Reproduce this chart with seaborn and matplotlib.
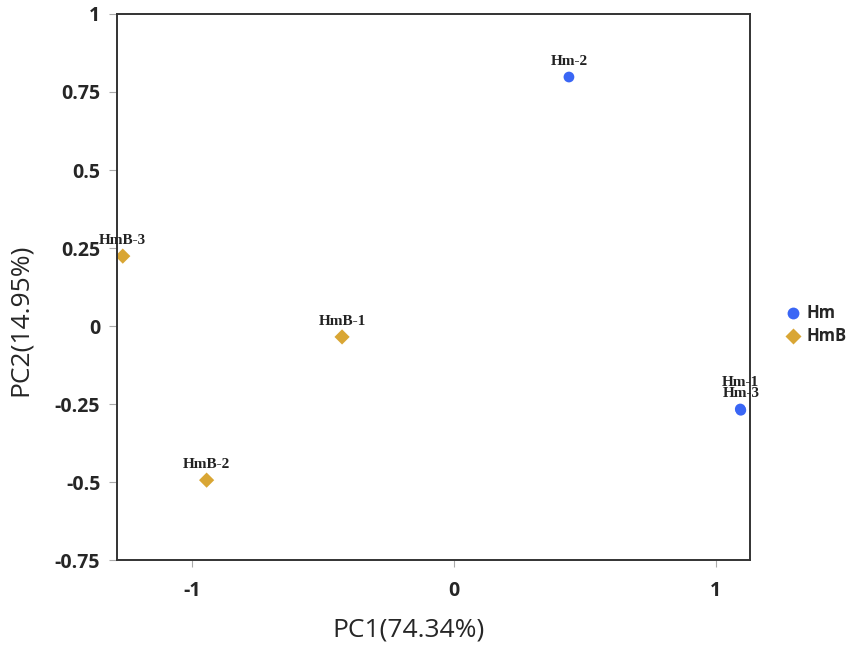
import pandas as pd
import matplotlib
matplotlib.use('Agg')
import matplotlib.pyplot as plt
import seaborn as sns

# PCA scores
samples = ['Hm-1', 'Hm-2', 'Hm-3', 'HmB-1', 'HmB-2', 'HmB-3']
groups = ['Hm', 'Hm', 'Hm', 'HmB', 'HmB', 'HmB']
pc1 = [1.093, 0.439, 1.095, -0.427, -0.944, -1.264]
pc2 = [-0.266, 0.798, -0.270, -0.035, -0.494, 0.224]

xticks = [-1, 0, 1]
yticks = [1, 0.75, 0.5, 0.25, 0, -0.25, -0.5, -0.75]
ytick_labels = ['1', '0.75', '0.5', '0.25', '0', '-0.25', '-0.5', '-0.75']

df = pd.DataFrame({'sample': samples, 'group': groups, 'PC1': pc1, 'PC2': pc2})

sns.set_style('white')
plt.rcParams['font.family'] = ['Open Sans', 'DejaVu Sans']

fig = plt.figure(figsize=(8.51, 6.54), dpi=100)
ax = fig.add_axes([0.1375, 0.1437, 0.7438, 0.8349])

palette = {'Hm': '#3a66f5', 'HmB': '#d9a634'}
markers = {'Hm': 'o', 'HmB': 'D'}
sns.scatterplot(data=df, x='PC1', y='PC2', hue='group', style='group',
                palette=palette, markers=markers, s=60, edgecolor='none',
                ax=ax, legend=True)

# sample labels (Hm-1 / Hm-3 sit on top of each other)
offsets = {'Hm-1': 0.064, 'Hm-3': 0.032}
for _, row in df.iterrows():
    dy = offsets.get(row['sample'], 0.03)
    ax.text(row['PC1'], row['PC2'] + dy, row['sample'], ha='center', va='bottom',
            family='Liberation Serif', fontweight='bold', fontsize=11,
            color='#222222')

ax.set_xlim(-1.286, 1.13)
ax.set_ylim(-0.75, 1.0)
ax.set_xticks(xticks)
ax.set_xticklabels([str(t) for t in xticks], fontweight='bold', fontsize=14)
ax.set_yticks(yticks)
ax.set_yticklabels(ytick_labels, fontweight='bold', fontsize=14)
ax.tick_params(axis='both', direction='out', length=5, width=0.8, color='#aaaaaa',
               bottom=True, left=True)
ax.tick_params(axis='x', pad=10)
ax.tick_params(axis='y', pad=6, length=6)

for sp in ax.spines.values():
    sp.set_color('#333333')
    sp.set_linewidth(1.4)

ax.set_xlabel('PC1(74.34%)', fontsize=19)
ax.set_ylabel('PC2(14.95%)', fontsize=19)
ax.xaxis.set_label_coords(0.46, -0.105)
ax.yaxis.set_label_coords(-0.133, 0.44)

leg = ax.legend(loc='upper left', bbox_to_anchor=(776 / 851, 1 - 296 / 654),
                bbox_transform=fig.transFigure, frameon=False, title=None,
                fontsize=12, handlelength=1.0, handletextpad=0.3,
                labelspacing=0.3, borderpad=0, markerscale=1.1)
for t in leg.get_texts():
    t.set_fontweight('bold')

fig.savefig('out.png', dpi=100)
